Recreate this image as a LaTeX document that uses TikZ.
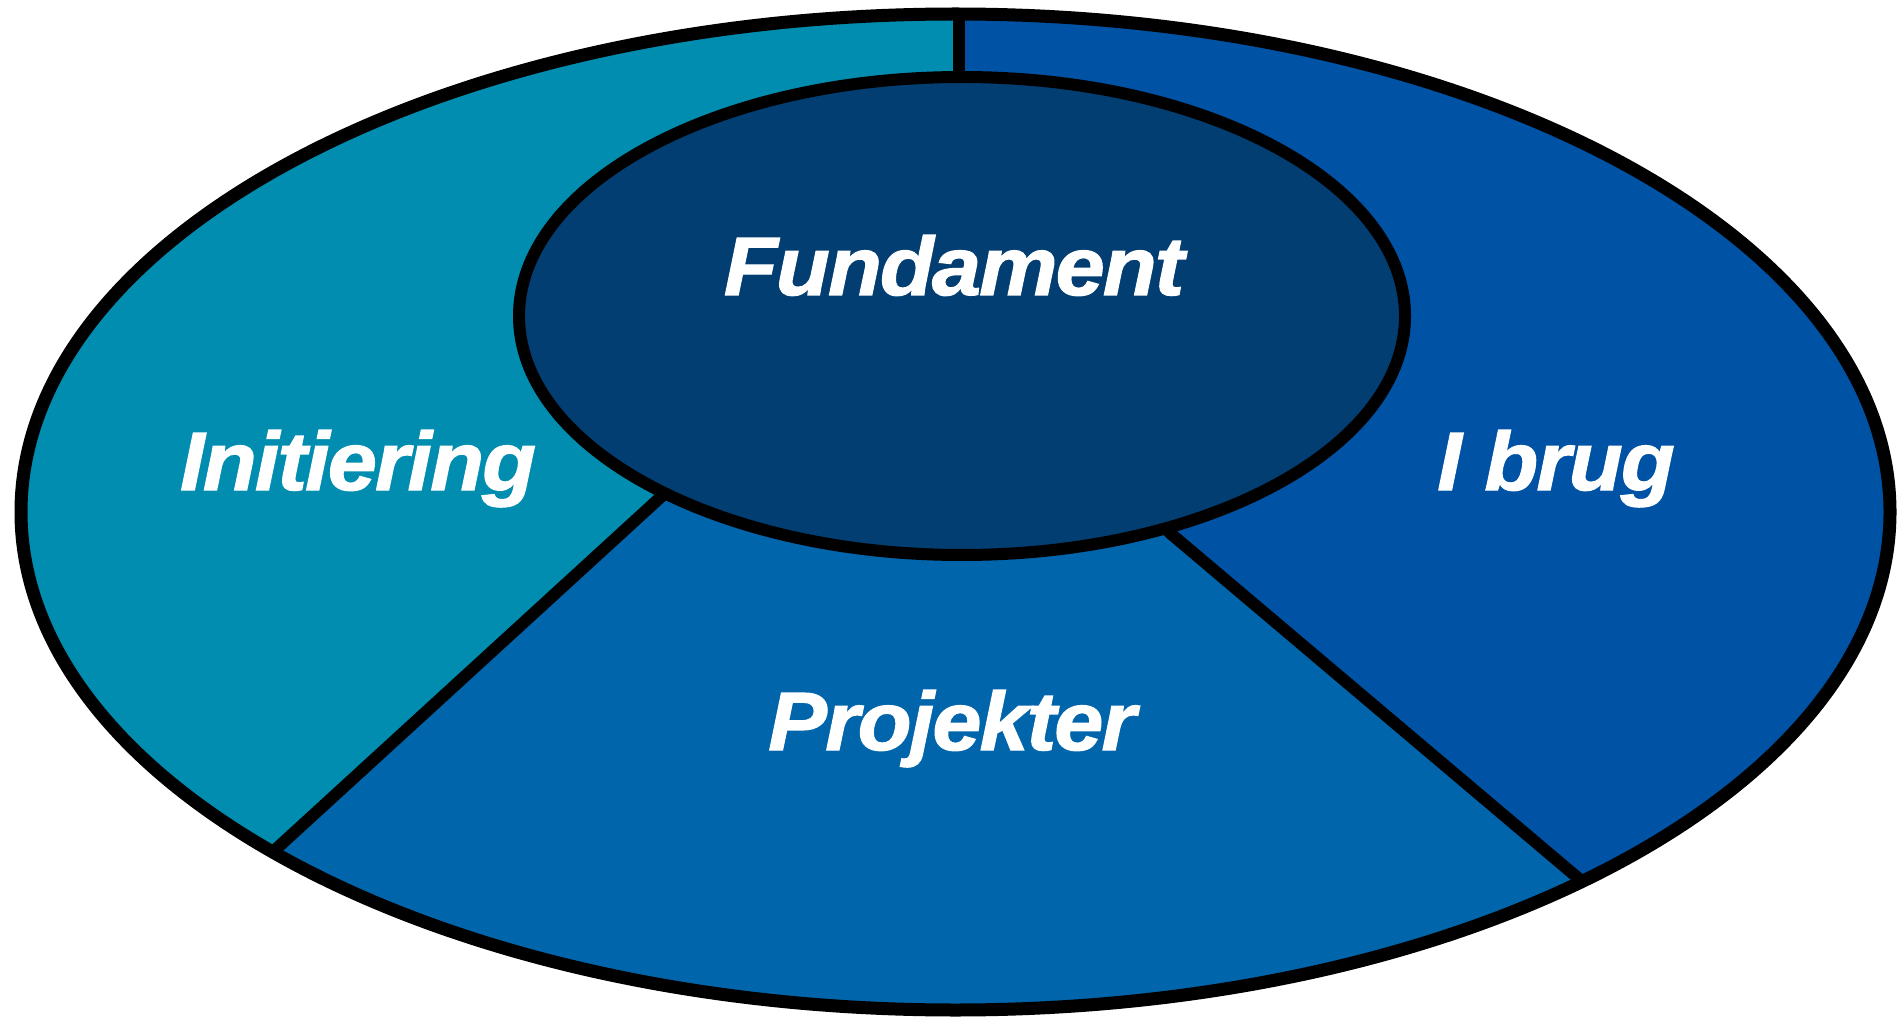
\documentclass[tikz,border=0pt]{standalone}
\usepackage{fontspec}
\setmainfont{Liberation Sans}
\newfontface\lblface{Liberation Sans Bold Italic}[FakeBold=1.5, LetterSpace=-2]
\usetikzlibrary{calc}
\definecolor{cInit}{HTML}{008DB0}
\definecolor{cBrug}{HTML}{0053A4}
\definecolor{cProj}{HTML}{0065AB}
\definecolor{cFund}{HTML}{023E71}
\tikzset{
  lbl/.style={text=white, font=\lblface\fontsize{88}{96}\selectfont, anchor=base, inner sep=0pt, yscale=0.94, transform shape},
  rim/.style={draw=black, line width=13pt},
  divider/.style={draw=black, line width=12pt}
}
\begin{document}
\begin{tikzpicture}[x=1pt,y=-1pt]
\useasboundingbox (0,0) rectangle (1901,1024);
% geometry
\coordinate (oc) at (955.5,512);
\coordinate (ic) at (962,316);
\coordinate (vt) at (959,-60);
\coordinate (vb) at (959,316);
\coordinate (la) at (663,495);
\coordinate (lb) at (275,850);
\coordinate (ra) at (1170,533);
\coordinate (rb) at (1578,878);
\coordinate (lfar) at ($(la)!2.2!(lb)$);
\coordinate (rfar) at ($(ra)!2.2!(rb)$);
\begin{scope}
  \clip (oc) ellipse [x radius=934.5, y radius=498];
  \fill[cProj] (-100,-100) rectangle (2000,1200);
  \fill[cInit] (vt) -- (vb) -- (la) -- (lfar) -- (-400,1400) -- (-400,-60) -- cycle;
  \fill[cBrug] (vt) -- (vb) -- (ra) -- (rfar) -- (2400,1400) -- (2400,-60) -- cycle;
  \draw[divider] (vt) -- (vb);
  \draw[divider] (vb) -- (la) -- (lfar);
  \draw[divider] (vb) -- (ra) -- (rfar);
\end{scope}
\draw[rim] (oc) ellipse [x radius=934.5, y radius=498];
\filldraw[fill=cFund, draw=black, line width=12pt] (ic) ellipse [x radius=443, y radius=239];
% labels
\node[lbl] (fund) at (954,295) {Fundament};
\node[lbl] (init) at (358,490) {Initiering};
\node[lbl] (brug) at (1556,490) {I brug};
\node[lbl] (proj) at (952,750) {Projekter};
\end{tikzpicture}
\end{document}
